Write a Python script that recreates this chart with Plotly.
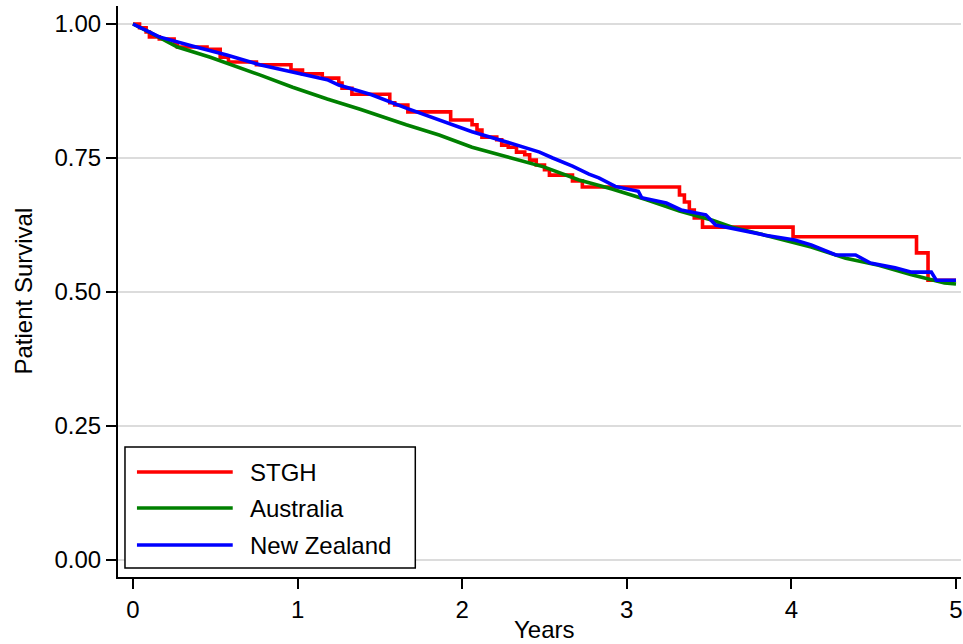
import plotly.graph_objects as go

# ---------------- data ----------------
series_names = ["STGH", "Australia", "New Zealand"]
series_colors = ["#ff0000", "#008000", "#0000ff"]

stgh_t = [0, .04, .08, .10, .16, .25, .27, .45, .53, .58, .75, .96, 1.03, 1.15, 1.25, 1.27,
          1.33, 1.56, 1.59, 1.67, 1.93, 2.06, 2.09, 2.12, 2.21, 2.24, 2.28, 2.33, 2.38, 2.41,
          2.45, 2.50, 2.53, 2.67, 2.73, 3.32, 3.35, 3.38, 3.41, 3.46, 4.01, 4.76, 4.83, 5.0]
stgh_s = [1.0, .993, .985, .976, .972, .963, .957, .953, .938, .929, .924, .914, .907, .899, .89, .88,
          .869, .853, .849, .836, .821, .812, .802, .789, .784, .774, .77, .761, .756, .746,
          .737, .728, .718, .707, .696, .681, .668, .653, .638, .621, .603, .573, .522, .522]

aus_t = [0, .1, .27, .47, .77, .97, 1.18, 1.38, 1.66, 1.86, 2.06, 2.27, 2.5, 2.71, 2.91,
         3.12, 3.32, 3.52, 3.64, 3.84, 4.04, 4.12, 4.33, 4.53, 4.73, 4.93, 5.0]
aus_s = [1.0, .985, .957, .938, .905, .882, .86, .841, .812, .793, .77, .752, .733, .709, .692,
         .672, .651, .634, .621, .606, .591, .584, .563, .55, .532, .517, .515]

nz_t = [0, .16, .36, .57, .77, .97, 1.18, 1.25, 1.38, 1.45, 1.66, 1.86, 2.06, 2.27, 2.47, 2.55,
        2.67, 2.77, 2.83, 2.93, 3.05, 3.07, 3.09, 3.24, 3.33, 3.48, 3.54, 3.64, 3.84, 4.02,
        4.12, 4.27, 4.39, 4.48, 4.63, 4.73, 4.85, 4.88, 5.0]
nz_s = [1.0, .976, .959, .942, .924, .91, .896, .886, .875, .868, .843, .821, .799, .78, .761, .75,
        .735, .72, .713, .697, .690, .688, .676, .666, .653, .644, .625, .619, .606, .597,
        .588, .569, .569, .554, .545, .537, .537, .522, .522]

x_ticks = [0, 1, 2, 3, 4, 5]
y_ticks = [0.0, 0.25, 0.5, 0.75, 1.0]
y_tick_labels = ["0.00", "0.25", "0.50", "0.75", "1.00"]

# ---------------- figure ----------------
W, H = 963, 644
ML, MR, MT, MB = 118, 0, 6, 67
FONT = "Liberation Sans, Arial, sans-serif"
FS = 24

fig = go.Figure()
fig.add_trace(go.Scatter(x=stgh_t, y=stgh_s, mode="lines", line=dict(color=series_colors[0], width=3.6, shape="hv"),
                         name=series_names[0], showlegend=False))
fig.add_trace(go.Scatter(x=aus_t, y=aus_s, mode="lines", line=dict(color=series_colors[1], width=3.6),
                         name=series_names[1], showlegend=False))
fig.add_trace(go.Scatter(x=nz_t, y=nz_s, mode="lines", line=dict(color=series_colors[2], width=3.6),
                         name=series_names[2], showlegend=False))

# pixel scale of original: 165 px per year, x=0 at 133 px; 536 px per unit, S=1 at 24 px
px_per_year = 165.0
px_per_unit = 536.0
x_lo = (ML - 133) / px_per_year
x_hi = x_lo + (W - ML - MR) / px_per_year
y_hi = 1.0 + (24 - MT) / px_per_unit
y_lo = y_hi - (H - MT - MB) / px_per_unit

fig.update_layout(
    width=W, height=H,
    margin=dict(l=ML, r=MR, t=MT, b=MB),
    paper_bgcolor="white", plot_bgcolor="white",
    font=dict(family=FONT, size=FS, color="black"),
    xaxis=dict(range=[x_lo, x_hi], tickvals=x_ticks, showgrid=False, zeroline=False,
               showline=True, linecolor="black", linewidth=2,
               ticks="outside", ticklen=10, tickwidth=1.5, tickcolor="black",
               ticklabeloverflow="allow",
               tickfont=dict(size=FS, family=FONT)),
    yaxis=dict(range=[y_lo, y_hi], tickvals=y_ticks, ticktext=y_tick_labels,
               showgrid=True, gridcolor="#dcdcdc", gridwidth=2, zeroline=False,
               showline=True, linecolor="black", linewidth=2,
               ticks="outside", ticklen=10, tickwidth=1.5, tickcolor="black",
               tickfont=dict(size=FS, family=FONT)),
    showlegend=False,
)

PW, PH = W - ML - MR, H - MT - MB
def px2x(px):
    return (px - ML) / PW
def px2y(py):
    return (H - MB - py) / PH

# axis titles
fig.add_annotation(text="Years", xref="x", yref="paper", x=2.5, y=0, yanchor="top",
                   yshift=-(614 - (H - MB)), showarrow=False, font=dict(size=FS, family=FONT))
fig.add_annotation(text="Patient Survival", xref="paper", yref="paper", x=0, y=0.5,
                   xanchor="center", yanchor="middle",
                   xshift=23 - ML, textangle=-90, showarrow=False, font=dict(size=FS, family=FONT))

# custom legend box
fig.add_shape(type="rect", xref="paper", yref="paper", x0=px2x(125), x1=px2x(416),
              y0=px2y(568), y1=px2y(447), line=dict(color="black", width=1.5), fillcolor="white",
              layer="above")
rows = [472, 508, 545]
for name, color, ry in zip(series_names, series_colors, rows):
    fig.add_shape(type="line", xref="paper", yref="paper", x0=px2x(137), x1=px2x(233),
                  y0=px2y(ry), y1=px2y(ry), line=dict(color=color, width=3.6), layer="above")
    fig.add_annotation(text=name, xref="paper", yref="paper", x=px2x(248), y=px2y(ry),
                       xanchor="left", yanchor="middle", showarrow=False,
                       font=dict(size=FS, family=FONT, color="black"))

fig.write_html("out.html")
